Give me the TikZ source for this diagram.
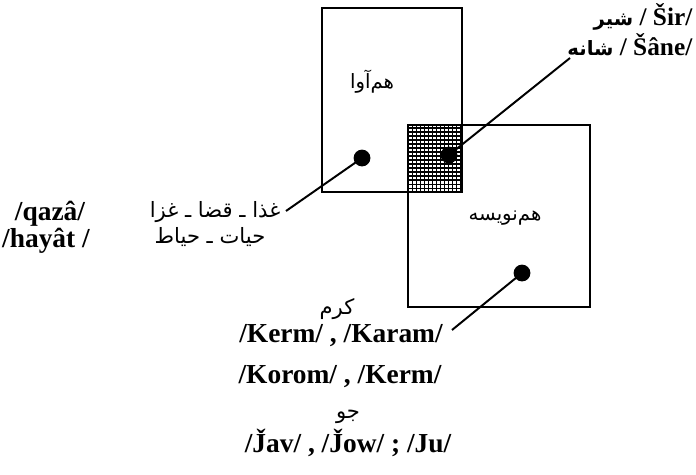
\documentclass[tikz,border=0pt]{standalone}
\usepackage{fontspec}
\setmainfont{Liberation Serif}
\newfontfamily\arabicfont[Script=Arabic]{DejaVu Sans}
\TeXXeTstate=1
\newcommand{\prs}[1]{{\arabicfont\beginR #1\endR}}

\begin{document}
\begin{tikzpicture}[x=0.025cm, y=-0.025cm,
  box/.style={draw, line width=2pt},
  dot/.style={circle, fill, inner sep=0pt, minimum size=0.42cm},
  leader/.style={line width=1.4pt},
  latin/.style={font=\fontsize{19.5}{23}\selectfont\bfseries, inner sep=1pt},
  persian/.style={font=\fontsize{15}{18}\arabicfont, inner sep=1pt}]
\useasboundingbox (0,0) rectangle (696,474);
% overlap, shaded
\fill[white] (408,125) rectangle (462,192);
\begin{scope}
\clip (408,125) rectangle (462,192);
\draw[line width=0.8pt, step=0.1cm] (400,120) grid (470,200);
\end{scope}
% the two sets
\draw[box] (322,8) rectangle (462,192);
\draw[box] (408,125) rectangle (590,307);
\node[persian, font=\fontsize{14}{16}\arabicfont] (phoneLbl) at (372,82) {\prs{هم‌آوا}};
\node[persian, font=\fontsize{14}{16}\arabicfont] (graphLbl) at (505,218) {\prs{هم‌نویسه}};
% dots
\node[dot] (dotA) at (362,158) {};
\node[dot] (dotAB) at (449,155) {};
\node[dot] (dotB) at (522,273) {};
% free ends of leaders
\coordinate (endA) at (286,211);
\coordinate (endAB) at (570,58);
\coordinate (endB) at (452,330);
\draw[leader] (dotA.center) -- (endA);
\draw[leader] (dotAB.center) -- (endAB);
\draw[leader] (dotB.center) -- (endB);
% homophones
\node[persian, anchor=east] (qazaFa) at (282,212) {\prs{غذا ـ قضا ـ غزا}};
\node[persian] (hayatFa) at (210,237) {\prs{حیات ـ حیاط}};
\node[latin] (qaza) at (50,214) {/qazâ/};
\node[latin] (hayat) at (46,241) {/hayât /};
% homophones and homographs
\node[latin, anchor=east, font=\fontsize{18}{22}\selectfont\bfseries] (sir) at (694,17) {\prs{\fontsize{14}{16}\selectfont شیر} / Šir/};
\node[latin, anchor=east, font=\fontsize{18}{22}\selectfont\bfseries] (sane) at (694,45) {\prs{\fontsize{14}{16}\selectfont شانه} / Šâne/};
% homographs
\node[persian] (karamFa) at (337,309) {\prs{کرم}};
\node[latin] (kerm) at (341,336) {/Kerm/ , /Karam/};
\node[latin] (korom) at (340,377) {/Korom/ , /Kerm/};
\node[persian] (javFa) at (348,417) {\prs{جو}};
\node[latin] (jav) at (348,443) {/J̌av/ , /J̌ow/ ; /Ju/};
\end{tikzpicture}
\end{document}
